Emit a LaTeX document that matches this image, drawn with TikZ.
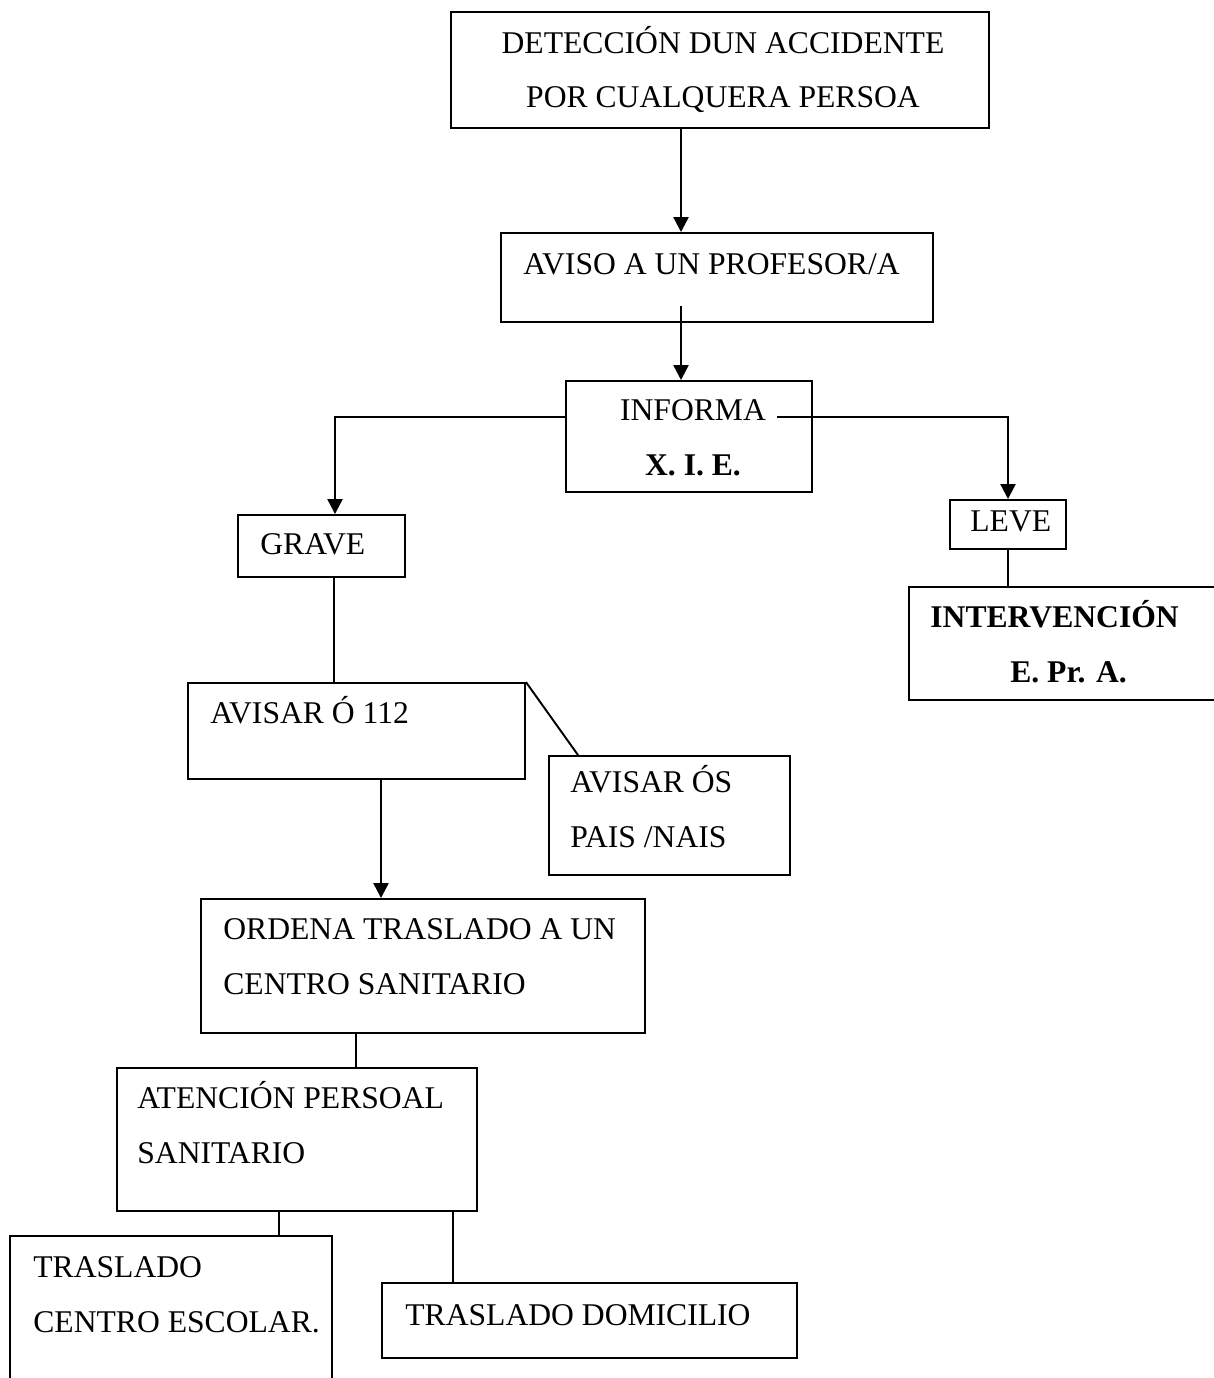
\documentclass[tikz,border=0pt]{standalone}
\usepackage{fontspec}
\setmainfont{Liberation Serif}
\usetikzlibrary{arrows.meta}
\tikzset{
  box/.style={draw=black, line width=1.1pt, inner sep=0pt},
  txt/.style={inner sep=0pt, anchor=base west, align=left},
  arr/.style={-{Triangle[length=0.3cm,width=0.3cm]}, line width=1.3pt},
  lin/.style={line width=1.1pt}
}
\begin{document}
\begin{tikzpicture}[x=0.02cm, y=-0.02cm, font=\fontsize{18}{31.2}\selectfont]
\useasboundingbox (0,0) rectangle (1213,1378);
% boxes
\node[box, minimum width=10.76cm, minimum height=2.32cm] (det) at (720,70) {};
\node[box, minimum width=8.64cm, minimum height=1.78cm] (avi) at (717,277.5) {};
\node[box, minimum width=4.92cm, minimum height=2.22cm] (inf) at (689,436.5) {};
\node[box, minimum width=3.34cm, minimum height=1.24cm] (gra) at (321.5,546) {};
\node[box, minimum width=2.32cm, minimum height=0.98cm] (lev) at (1008,524.5) {};
\node[box, minimum width=6.62cm, minimum height=2.26cm] (int) at (1074.5,643.5) {};
\node[box, minimum width=6.74cm, minimum height=1.92cm] (a112) at (356.5,731) {};
\node[box, minimum width=4.82cm, minimum height=2.38cm] (pais) at (669.5,815.5) {};
\node[box, minimum width=8.88cm, minimum height=2.68cm] (ord) at (423,966) {};
\node[box, minimum width=7.2cm, minimum height=2.86cm] (ate) at (297,1139.5) {};
\node[box, minimum width=6.44cm, minimum height=3.28cm] (esc) at (171,1318) {};
\node[box, minimum width=8.3cm, minimum height=1.5cm] (dom) at (589.5,1320.5) {};
% texts (base = last line)
\node[txt, align=center, anchor=base] (tdet) at (723,108) {DETECCIÓN DUN ACCIDENTE\\POR CUALQUERA PERSOA};
\node[txt] (tavi) at (523,275) {AVISO A UN PROFESOR/A};
\node[txt, align=center, anchor=base] (tinf) at (693,475) {INFORMA\\\textbf{X. I. E.}};
\node[txt] (tgra) at (260,554) {GRAVE};
\node[txt] (tlev) at (970,531) {LEVE};
\node[txt] (tint) at (930,682) {\textbf{INTERVENCIÓN}\\\hspace*{1.6cm}\textbf{E. Pr. A.}};
\node[txt] (ta112) at (210,723) {AVISAR Ó 112};
\node[txt] (tpais) at (570,847) {AVISAR ÓS\\PAIS /NAIS};
\node[txt] (tord) at (223,994) {ORDENA TRASLADO A UN\\CENTRO SANITARIO};
\node[txt] (tate) at (137,1163) {ATENCIÓN PERSOAL\\SANITARIO};
\node[txt] (tesc) at (33,1332) {TRASLADO\\CENTRO ESCOLAR.};
\node[txt] (tdom) at (405,1325) {TRASLADO DOMICILIO};
% connectors
\coordinate (c1) at (681,0);
\coordinate (avis) at (681,306);
\coordinate (infl) at (335,417);
\coordinate (infr) at (777,417);
\coordinate (c4) at (1008,0);
\coordinate (c5) at (334,0);
\coordinate (c6) at (578,0);
\coordinate (c7) at (381,0);
\coordinate (c8) at (356,0);
\coordinate (c9) at (279,0);
\coordinate (c10) at (453,0);
\path [arr] (det.south -| c1) edge (avi.north -| c1);
\path [arr] (avis) edge (inf.north -| avis);
\draw [arr] (inf.west |- infl) -| (gra.north -| infl);
\draw [arr] (infr) -| (lev.north -| c4);
\path [lin] (gra.south -| c5) edge (a112.north -| c5);
\path [lin] (a112.north east) edge (pais.north -| c6);
\path [arr] (a112.south -| c7) edge (ord.north -| c7);
\path [lin] (lev.south) edge (int.north -| lev.south);
\path [lin] (ord.south -| c8) edge (ate.north -| c8);
\path [lin] (ate.south -| c9) edge (esc.north -| c9);
\path [lin] (ate.south -| c10) edge (dom.north -| c10);
\end{tikzpicture}
\end{document}
